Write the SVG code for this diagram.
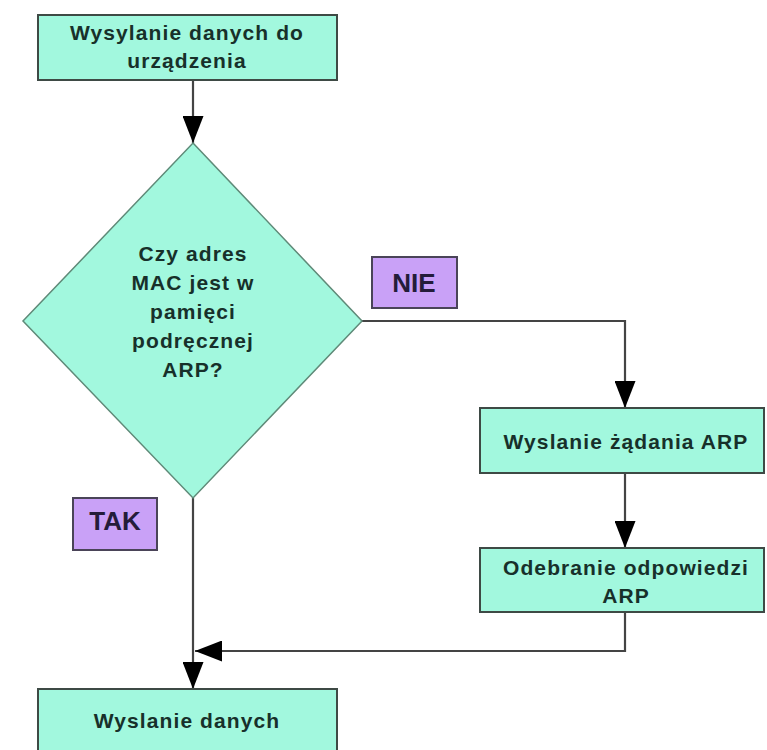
<svg xmlns="http://www.w3.org/2000/svg" width="767" height="750" viewBox="0 0 767 750">
  <style>
    .box { fill: #a2f8de; stroke: #3e4a45; stroke-width: 2; }
    .dec { fill: #a2f8de; stroke: #5f8a78; stroke-width: 1.5; }
    .tag { fill: #c9a1f7; stroke: #4a4458; stroke-width: 2; }
    .txt { font-family: "Liberation Sans", Arial, sans-serif; font-weight: bold; font-size: 21px; letter-spacing: 1.1px; fill: #17302a; text-anchor: middle; }
    .tagtxt { font-family: "Liberation Sans", Arial, sans-serif; font-weight: bold; font-size: 26px; fill: #241c3a; text-anchor: middle; }
    .link { fill: none; stroke: #444; stroke-width: 2.2; marker-end: url(#head); }
  </style>
  <defs>
    <marker id="head" viewBox="0 0 27 21" refX="27" refY="10.5" markerWidth="27" markerHeight="21" markerUnits="userSpaceOnUse" orient="auto">
      <path d="M0,0 L27,10.5 L0,21 Z" fill="#000"/>
    </marker>
  </defs>
  <rect width="767" height="750" fill="#ffffff"/>

  <g id="connectors">
    <path class="link" d="M193,80 V143"/>
    <path class="link" d="M362,321 H625 V408"/>
    <path class="link" d="M625,473 V548"/>
    <path class="link" d="M625,612 V651 H195"/>
    <path class="link" d="M193,498 V689"/>
  </g>

  <g id="send-to-device">
    <rect class="box" x="38" y="15" width="299" height="65"/>
    <text class="txt" x="187" y="40">Wysylanie danych do</text>
    <text class="txt" x="187" y="68">urządzenia</text>
  </g>

  <g id="mac-in-cache">
    <polygon class="dec" points="193,143 362,321 193,498 23,321"/>
    <text class="txt" x="193" y="261">Czy adres</text>
    <text class="txt" x="193" y="290">MAC jest w</text>
    <text class="txt" x="193" y="319">pamięci</text>
    <text class="txt" x="193" y="348">podręcznej</text>
    <text class="txt" x="193" y="377">ARP?</text>
  </g>

  <g id="label-nie">
    <rect class="tag" x="372" y="257" width="85" height="51"/>
    <text class="tagtxt" x="414" y="292">NIE</text>
  </g>

  <g id="label-tak">
    <rect class="tag" x="73" y="498" width="84" height="52"/>
    <text class="tagtxt" x="115" y="530">TAK</text>
  </g>

  <g id="send-arp-request">
    <rect class="box" x="480" y="408" width="284" height="65"/>
    <text class="txt" x="626" y="449">Wyslanie żądania ARP</text>
  </g>

  <g id="receive-arp-reply">
    <rect class="box" x="480" y="548" width="284" height="64"/>
    <text class="txt" x="626" y="575">Odebranie odpowiedzi</text>
    <text class="txt" x="626" y="603">ARP</text>
  </g>

  <g id="send-data">
    <rect class="box" x="38" y="689" width="299" height="75"/>
    <text class="txt" x="187" y="728">Wyslanie danych</text>
  </g>
</svg>
